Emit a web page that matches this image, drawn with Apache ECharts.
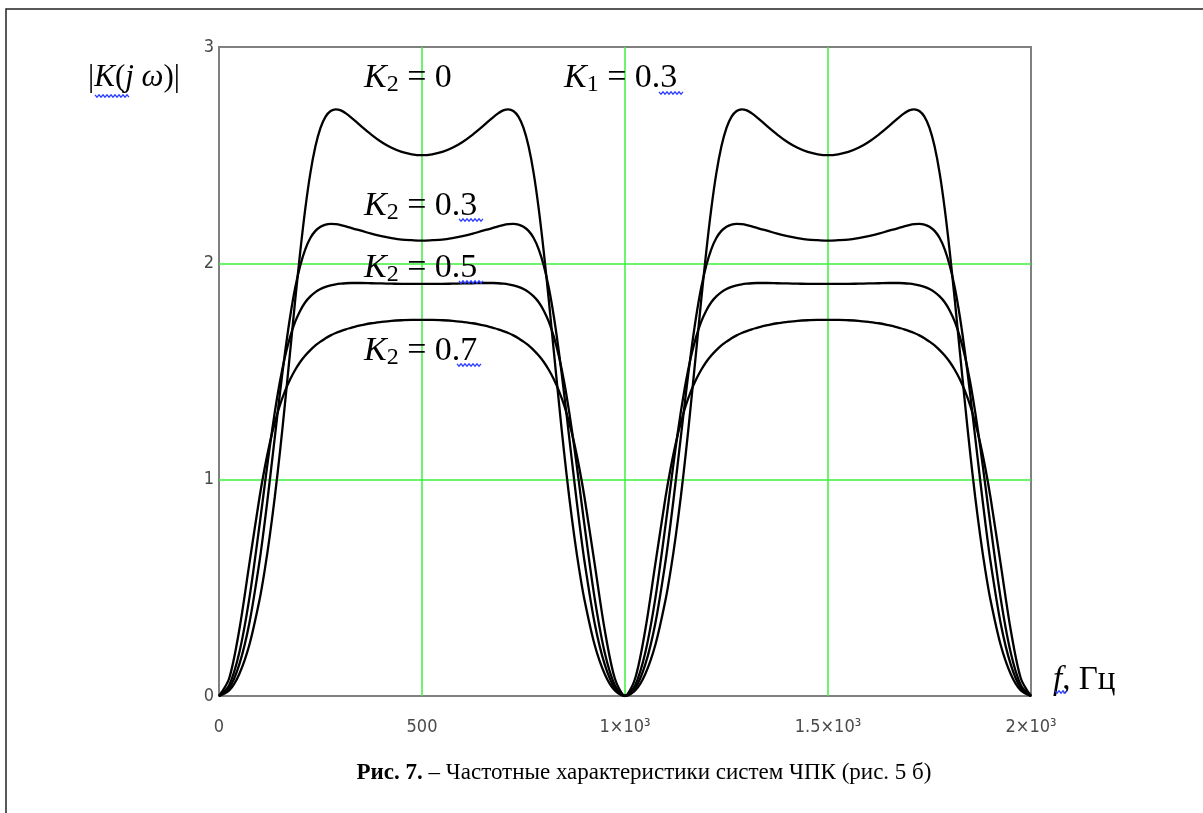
<!DOCTYPE html>
<html><head><meta charset="utf-8">
<script src="https://cdn.jsdelivr.net/npm/echarts@6/dist/echarts.min.js"></script>
<style>html,body{margin:0;padding:0;background:#fff}#c{width:1203px;height:813px}</style>
</head><body><div id="c"></div>
<script>
const freq = [0,25,50,75,100,112.5,125,137.5,150,162.5,175,187.5,200,212.5,225,237.5,250,262.5,275,287.5,300,312.5,325,337.5,350,375,400,425,450,475,500,
525,550,575,600,625,650,662.5,675,687.5,700,712.5,725,737.5,750,762.5,775,787.5,800,812.5,825,837.5,850,862.5,875,887.5,900,925,950,975,1000,
1025,1050,1075,1100,1112.5,1125,1137.5,1150,1162.5,1175,1187.5,1200,1212.5,1225,1237.5,1250,1262.5,1275,1287.5,1300,1312.5,1325,1337.5,1350,1375,1400,1425,1450,1475,1500,
1525,1550,1575,1600,1625,1650,1662.5,1675,1687.5,1700,1712.5,1725,1737.5,1750,1762.5,1775,1787.5,1800,1812.5,1825,1837.5,1850,1862.5,1875,1887.5,1900,1925,1950,1975,2000];

const k2_00 = [0,0.025,0.102,0.238,0.446,0.581,0.739,0.921,1.126,1.351,1.587,1.826,2.052,2.252,2.417,2.541,2.626,2.678,2.704,2.712,2.707,2.693,2.675,2.655,2.634,2.595,2.561,2.534,2.515,2.504,2.5,
2.504,2.515,2.534,2.561,2.595,2.634,2.655,2.675,2.693,2.707,2.712,2.704,2.678,2.626,2.541,2.417,2.252,2.052,1.826,1.587,1.351,1.126,0.921,0.739,0.581,0.446,0.238,0.102,0.025,0,
0.025,0.102,0.238,0.446,0.581,0.739,0.921,1.126,1.351,1.587,1.826,2.052,2.252,2.417,2.541,2.626,2.678,2.704,2.712,2.707,2.693,2.675,2.655,2.634,2.595,2.561,2.534,2.515,2.504,2.5,
2.504,2.515,2.534,2.561,2.595,2.634,2.655,2.675,2.693,2.707,2.712,2.704,2.678,2.626,2.541,2.417,2.252,2.052,1.826,1.587,1.351,1.126,0.921,0.739,0.581,0.446,0.238,0.102,0.025,0];

const k2_03 = [0,0.036,0.146,0.339,0.625,0.801,0.995,1.197,1.398,1.586,1.751,1.886,1.989,2.065,2.117,2.150,2.169,2.179,2.182,2.181,2.177,2.171,2.164,2.157,2.151,2.137,2.126,2.117,2.110,2.107,2.105,
2.107,2.110,2.117,2.126,2.137,2.151,2.157,2.164,2.171,2.177,2.181,2.182,2.179,2.169,2.150,2.117,2.065,1.989,1.886,1.751,1.586,1.398,1.197,0.995,0.801,0.625,0.339,0.146,0.036,0,
0.036,0.146,0.339,0.625,0.801,0.995,1.197,1.398,1.586,1.751,1.886,1.989,2.065,2.117,2.150,2.169,2.179,2.182,2.181,2.177,2.171,2.164,2.157,2.151,2.137,2.126,2.117,2.110,2.107,2.105,
2.107,2.110,2.117,2.126,2.137,2.151,2.157,2.164,2.171,2.177,2.181,2.182,2.179,2.169,2.150,2.117,2.065,1.989,1.886,1.751,1.586,1.398,1.197,0.995,0.801,0.625,0.339,0.146,0.036,0];

const k2_05 = [0,0.050,0.201,0.455,0.792,0.974,1.151,1.313,1.453,1.568,1.659,1.729,1.781,1.820,1.847,1.867,1.881,1.891,1.898,1.903,1.906,1.908,1.909,1.909,1.909,1.908,1.907,1.906,1.905,1.905,1.905,
1.905,1.905,1.906,1.907,1.908,1.909,1.909,1.909,1.908,1.906,1.903,1.898,1.891,1.881,1.867,1.847,1.820,1.781,1.729,1.659,1.568,1.453,1.313,1.151,0.974,0.792,0.455,0.201,0.050,0,
0.050,0.201,0.455,0.792,0.974,1.151,1.313,1.453,1.568,1.659,1.729,1.781,1.820,1.847,1.867,1.881,1.891,1.898,1.903,1.906,1.908,1.909,1.909,1.909,1.908,1.907,1.906,1.905,1.905,1.905,
1.905,1.905,1.906,1.907,1.908,1.909,1.909,1.909,1.908,1.906,1.903,1.898,1.891,1.881,1.867,1.847,1.820,1.781,1.729,1.659,1.568,1.453,1.313,1.151,0.974,0.792,0.455,0.201,0.050,0];

const k2_07 = [0,0.081,0.306,0.614,0.921,1.054,1.168,1.264,1.344,1.409,1.463,1.507,1.544,1.574,1.599,1.621,1.638,1.654,1.667,1.678,1.687,1.695,1.702,1.709,1.714,1.723,1.729,1.734,1.737,1.739,1.739,
1.739,1.737,1.734,1.729,1.723,1.714,1.709,1.702,1.695,1.687,1.678,1.667,1.654,1.638,1.621,1.599,1.574,1.544,1.507,1.463,1.409,1.344,1.264,1.168,1.054,0.921,0.614,0.306,0.081,0,
0.081,0.306,0.614,0.921,1.054,1.168,1.264,1.344,1.409,1.463,1.507,1.544,1.574,1.599,1.621,1.638,1.654,1.667,1.678,1.687,1.695,1.702,1.709,1.714,1.723,1.729,1.734,1.737,1.739,1.739,
1.739,1.737,1.734,1.729,1.723,1.714,1.709,1.702,1.695,1.687,1.678,1.667,1.654,1.638,1.621,1.599,1.574,1.544,1.507,1.463,1.409,1.344,1.264,1.168,1.054,0.921,0.614,0.306,0.081,0];

const xTickLabels = {0:'0', 500:'500', 1000:'1×10³', 1500:'1.5×10³', 2000:'2×10³'};
const yTickLabels = ['0','1','2','3'];

const serif = '"Liberation Serif","Times New Roman",serif';
const tickFont = '"DejaVu Sans Condensed","Liberation Sans",Arial,sans-serif';

function pairs(vals){ return freq.map((f,i)=>[f, vals[i]]); }
function wave(x0, x1, y){
  const pts=[]; let up=true;
  for(let x=x0; x<=x1; x+=2){ pts.push([x, y + (up?-1.2:1.2)]); up=!up; }
  return {type:'polyline', shape:{points:pts}, style:{stroke:'#2a3cff', lineWidth:1.2, fill:null}, z:10};
}
function kLabel(x, y, sub, val){
  return {type:'text', x:x, y:y, z:10, style:{
    text:'{k|K}{s|'+sub+'}{n| = '+val+'}',
    verticalAlign:'middle',
    rich:{
      k:{fontFamily:serif, fontStyle:'italic', fontSize:34, fill:'#000', lineHeight:38, verticalAlign:'middle'},
      s:{fontFamily:serif, fontSize:24, fill:'#000', lineHeight:38, verticalAlign:'bottom', padding:[9,0,0,0]},
      n:{fontFamily:serif, fontSize:34, fill:'#000', lineHeight:38, verticalAlign:'middle'}
    }}};
}

const chart = echarts.init(document.getElementById('c'));
const lineStyle = {color:'#000', width:2.3};
const mk = (name, vals)=>({name, type:'line', data:pairs(vals), showSymbol:false, smooth:0.3,
  lineStyle, itemStyle:{color:'#000'}, z:3, animation:false});

chart.setOption({
  animation:false,
  grid:{left:219, top:47, right:172, bottom:117, show:true, borderColor:'#808080', borderWidth:2, backgroundColor:'transparent'},
  xAxis:{type:'value', min:0, max:2000, interval:500,
    axisLine:{show:false}, axisTick:{show:false},
    splitLine:{show:true, showMinLine:false, showMaxLine:false, lineStyle:{color:'#3cf03c', width:1.5}},
    axisLabel:{margin:22, fontFamily:tickFont, fontSize:18, color:'#4a4a4a',
      formatter:v=>xTickLabels[v]!==undefined?xTickLabels[v]:''}},
  yAxis:{type:'value', min:0, max:3, interval:1,
    axisLine:{show:false}, axisTick:{show:false},
    splitLine:{show:true, showMinLine:false, showMaxLine:false, lineStyle:{color:'#3cf03c', width:1.5}},
    axisLabel:{margin:5, fontFamily:tickFont, fontSize:18, color:'#4a4a4a',
      formatter:v=>yTickLabels[v]!==undefined?yTickLabels[v]:''}},
  series:[mk('K2=0',k2_00), mk('K2=0.3',k2_03), mk('K2=0.5',k2_05), mk('K2=0.7',k2_07)],
  graphic:[
    {type:'rect', shape:{x:6, y:9, width:1300, height:900}, style:{fill:null, stroke:'#222', lineWidth:1.5}, z:0},
    {type:'text', x:88, y:78, z:10, style:{
      text:'{b||}{i|K}{b|(}{i|j ω}{b|)|}', verticalAlign:'middle',
      rich:{ i:{fontFamily:serif, fontStyle:'italic', fontSize:31, fill:'#000'},
             b:{fontFamily:serif, fontSize:31, fill:'#000'} }}},
    wave(95, 129, 96),
    kLabel(364, 78, '2', '0'),
    kLabel(564, 78, '1', '0.3'),
    wave(659, 683, 93),
    kLabel(364, 206, '2', '0.3'),
    wave(459, 483, 220),
    kLabel(364, 268, '2', '0.5'),
    wave(459, 483, 282),
    kLabel(364, 351, '2', '0.7'),
    wave(457, 481, 365),
    {type:'text', x:1053, y:680, z:10, style:{
      text:'{i|f}{b|, Гц}', verticalAlign:'middle',
      rich:{ i:{fontFamily:serif, fontStyle:'italic', fontSize:33, fill:'#000'},
             b:{fontFamily:serif, fontSize:33, fill:'#000'} }}},
    wave(1055, 1067, 692),
    {type:'text', x:644, y:773, z:10, style:{
      text:'{b|Рис. 7.}{n| – Частотные характеристики систем ЧПК (рис. 5 б)}', align:'center', verticalAlign:'middle',
      rich:{ b:{fontFamily:serif, fontWeight:'bold', fontSize:23, fill:'#000'},
             n:{fontFamily:serif, fontSize:23, fill:'#000'} }}}
  ]
});
</script></body></html>
